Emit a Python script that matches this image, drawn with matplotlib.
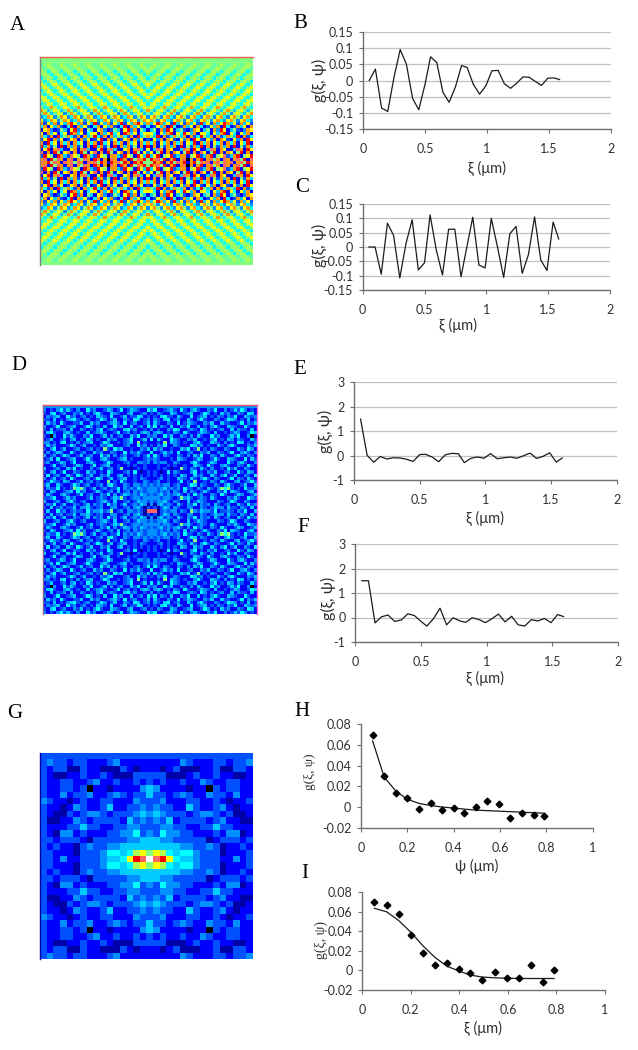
import numpy as np
import matplotlib
matplotlib.use("Agg")
import matplotlib.pyplot as plt
from matplotlib.colors import ListedColormap

W, H = 638, 1050

xi_long = [0.05,0.10,0.15,0.20,0.25,0.30,0.35,0.40,0.45,0.50,0.545,0.595,0.645,0.695,0.745,0.795,
           0.84,0.89,0.94,0.99,1.04,1.09,1.14,1.19,1.24,1.29,1.34,1.39,1.44,1.49,1.54,1.585]
b_vals = [0,.035,-.085,-.095,.01,.095,.05,-.055,-.09,-.012,.073,.055,-.037,-.067,-.02,.046,
          .04,-.012,-.042,-.017,.03,.031,-.01,-.024,-.008,.011,.01,-.003,-.015,.007,.008,.003]
c_vals = [0,0,-.095,.083,.04,-.108,.012,.095,-.08,-.055,.112,-.01,-.098,.062,.062,-.104,
          -.005,.104,-.063,-.073,.1,0,-.106,.046,.072,-.092,-.027,.105,-.045,-.082,.087,.028]
e_vals = [1.5,.02,-.26,-.03,-.13,-.08,-.09,-.14,-.23,.05,.06,-.05,-.24,.04,.1,.08,
          -.28,-.1,-.05,-.1,.09,-.12,-.08,-.05,-.1,0,.11,-.11,-.02,.12,-.26,-.09]
f_vals = [1.5,1.5,-.22,.03,.1,-.16,-.1,.15,.08,-.16,-.35,-.05,.38,-.3,-.01,-.14,
          -.2,-.01,-.08,-.21,-.05,.14,-.18,.05,-.3,-.35,-.09,-.14,-.04,-.21,.12,.04]
xi_short = [.05,.10,.15,.20,.25,.30,.35,.40,.445,.495,.545,.595,.645,.695,.745,.79]
h_pts = [.07,.03,.0135,.0085,-.0015,.0035,-.0025,-.0005,-.0055,-.0003,.0055,.003,-.0105,-.0055,-.0075,-.0085]
h_fit = [.064,.029,.0155,.0075,.0035,.0015,0,-.001,-.002,-.003,-.0035,-.004,-.0045,-.005,-.0055,-.006]
i_pts = [.07,.067,.058,.036,.0175,.0055,.007,.0015,-.0025,-.0105,-.002,-.008,-.008,.0055,-.0125,.0003]
i_fit = [.0635,.06,.051,.039,.025,.013,.004,-.001,-.005,-.007,-.0078,-.0082,-.0085,-.0085,-.0085,-.0085]

level_colors = ["#000000","#0000a8","#0000ff","#0050ff","#0090ff","#00ccff","#00ffff","#80ff80",
                "#ffff00","#ff9900","#ff0000","#ff6666","#ffffff","#60ffa0","#b0ff50"]

map_a = """
777777777777777777777777777777777
777777777777777777777777777777777
d7e7d7e7d7e7d7e7d7e7d7e7d7e7d7e7d
7d7e7d7e7d7e7d7e7d7e7d7e7d7e7d7e7
e767e767e767e767e767e767e767e767e
7e767e767e767e767e767e767e767e767
67e767e767e767e767e767e767e767e76
767e767e767e767e767e767e767e767e7
876787678767876787678767876787678
787678767876787678767876787678767
678767876787678767876787678767876
767876787678767876787678767876787
8e6d8e6d8e6d8e6d8e6d8e6d8e6d8e6d8
d8e6d8e6d8e6d8e6d8e6d8e6d8e6d8e6d
6d8e6d8e6d8e6d8e6d8e6d8e6d8e6d8e6
e6d9e6d8e6d9e6d8e6d9e6d8e6d9e6d8e
9e5d8e5d9e5d8e5d9e5d8e5d9e5d8e5d9
d9e5d8e4d9e5d8e4d9e5d8e4d9e5d8e5d
469847984698479846984798469847984
846984798469847984698479846984798
938593859a859385a3859385a3859a859
69285932 6a295832 69285932 6a2958326
28942375 28a49275 28942375 28a492752
82958268 2a958268 82958a68 2a9582688
96392a57 96392957 a6392957 96392a579
38a29482 38929482 38a29482 389294823
92a68296 92968296 92a68296 929682969
a59372a2 95937292 a59372a2 95937292a
28a29b52 28929b52 28a29b52 28929b528
b292a728 9292a728 b292a728 9292a7284
3a872a95 3b872a95 3a872995 3a872a85a
9b2a7b92 9b297b92 a9290b92 a92a7b9a7
b9a7b92b 9b7b92b9 b7a92a9b 7a92a9a77
""".replace(" ", "").split()

map_d = """
444444444444444444444444444444444
423246353242263422354236235432264
325623422435232463225432245223423
243452263423423254326223523365232
332523245632342236423522432652342
253426322335225342234532623422352
422362234522364232522634225234263
325233425224323246234322563422324
256322453232252345322362342324542
320422635322436223524234225362243
235223424523264232253422346223526
442325623242345223642232345272322
253422236423522324356222342263423
324623522342234232732645223224352
242354226323422534224322624353226
523423642235234226352423422342362
235262234522363224532234523222343
342235423622245322364222342244342
223623422354223623452232232322322
522342253623224235234237221232322
324523622432253423264222342621232
262342253264235224352245232323232
423523426322342364235234522324322
236432542235234232272326322322432
352253223642342234256322432443434
243362323767423523423362434354344
325422345263422353234252342434344
253224532236234224362423543435434
334622353422235234323547323443444
522342246323422234532522342354434
243623522432352434263423523435414
325234233524453234224422342453132
2522634234332634453472342443431bb
""".split()

map_g = """
33333333333333333
34332332223422222
32331132211132122
32112232232111333
32233223422322323
32233230221222245
32242334223432335
43221232233222433
32212432235223343
32113234432333454
31122432333325343
32223353322334433
32144232223344634
33233321333334455
32322134334455555
33222133346656e87
33242233345568abc
""".split()

def expand(rows):
    n = len(rows)
    q = np.array([[int(ch, 16) for ch in r[:n].ljust(n, r[-1])] for r in rows])
    top = np.hstack([q, q[:, -2:0:-1]])
    return np.vstack([top, top[-2:0:-1, :]])

def px_axes(fig, l, t, r, b):
    return fig.add_axes([l / W, 1 - b / H, (r - l) / W, (b - t) / H])

def ftext(fig, x, y, s, **kw):
    fig.text(x / W, 1 - y / H, s, ha="center", va="center", **kw)

plt.rcParams["font.family"] = ["Lato", "DejaVu Sans"]
fig = plt.figure(figsize=(W / 100, H / 100), dpi=100, facecolor="white")
cmap = ListedColormap(level_colors)

def heat(rows, rect, edges):
    ax = px_axes(fig, *rect)
    ax.imshow(expand(rows), cmap=cmap, vmin=-0.5, vmax=14.5, aspect="auto", interpolation="nearest")
    ax.set_xticks([]); ax.set_yticks([])
    for side in ax.spines:
        ax.spines[side].set_visible(side in edges)
        if side in edges:
            ax.spines[side].set_color(edges[side]); ax.spines[side].set_linewidth(1.0)

heat(map_a, (40, 57, 253, 265), {"top": "#e8604a", "left": "#808080"})
heat(map_d, (43, 405, 257, 614), {"top": "#f05070", "left": "#806090", "right": "#ff70d0"})
heat(map_g, (39.5, 753, 252, 959), {"left": "#0000a0"})

GRID = "#c0c0c0"; AX = "#707070"; TXT = "#303030"

def chart(rect, xlim, xt, ylim, yt, xfmt, yfmt, grid=True):
    ax = px_axes(fig, *rect)
    ax.set_xlim(*xlim); ax.set_ylim(*ylim)
    ax.set_xticks(xt); ax.set_xticklabels(xfmt)
    ax.set_yticks(yt); ax.set_yticklabels(yfmt)
    ax.spines["top"].set_visible(False); ax.spines["right"].set_visible(False)
    for s in ("left", "bottom"):
        ax.spines[s].set_color(AX); ax.spines[s].set_linewidth(1.0)
    ax.tick_params(length=3, width=0.8, color=AX, labelsize=9, labelcolor=TXT, pad=4)
    ax.tick_params(axis="x", pad=7)
    if grid:
        ax.grid(axis="y", color=GRID, lw=0.9); ax.set_axisbelow(True)
    ax.patch.set_alpha(0)
    return ax

x2 = [0, .5, 1, 1.5, 2]; x2l = ["0", "0.5", "1", "1.5", "2"]
y15 = [-.15, -.1, -.05, 0, .05, .1, .15]; y15l = ["-0.15", "-0.1", "-0.05", "0", "0.05", "0.1", "0.15"]
y3 = [-1, 0, 1, 2, 3]; y3l = ["-1", "0", "1", "2", "3"]
x1 = [0, .2, .4, .6, .8, 1]; x1l = ["0", "0.2", "0.4", "0.6", "0.8", "1"]
y8 = [-.02, 0, .02, .04, .06, .08]; y8l = ["-0.02", "0", "0.02", "0.04", "0.06", "0.08"]

LK = dict(color="#1a1a1a", lw=0.9)
chart((363, 31.7, 611, 129.3), (0, 2), x2, (-.15, .15), y15, x2l, y15l).plot(xi_long, b_vals, **LK)
chart((362.7, 204, 610, 290), (0, 2), x2, (-.15, .15), y15, x2l, y15l).plot(xi_long, c_vals, **LK)
chart((354, 382.3, 616.7, 480.3), (0, 2), x2, (-1, 3), y3, x2l, y3l).plot(xi_long, e_vals, **LK)
chart((355.3, 544, 618, 642), (0, 2), x2, (-1, 3), y3, x2l, y3l).plot(xi_long, f_vals, **LK)
ax = chart((361, 724.3, 592.7, 827.7), (0, 1), x1, (-.02, .08), y8, x1l, y8l, grid=False)
ax.plot(xi_short, h_fit, **LK)
ax.plot(xi_short, h_pts, ls="", marker="D", ms=3.4, color="black")
ax = chart((362.3, 892.3, 605, 989.7), (0, 1), x1, (-.02, .08), y8, x1l, y8l, grid=False)
ax.plot(xi_short, i_fit, **LK)
ax.plot(xi_short, i_pts, ls="", marker="D", ms=3.4, color="black")

SERIF = ["Liberation Serif", "DejaVu Serif"]
for s, x, y in [("A", 17, 25), ("B", 300, 24), ("C", 302, 188), ("D", 19, 366), ("E", 300, 369),
                ("F", 303, 528), ("G", 15, 714), ("H", 302, 712), ("I", 305, 874)]:
    ftext(fig, x, y, s, family=SERIF, fontsize=15, color="black")

xl = "ξ (μm)"; kw = dict(fontsize=10.5, color=TXT)
ftext(fig, 487, 168, xl, **kw); ftext(fig, 458, 325, xl, **kw)
ftext(fig, 485, 518, xl, **kw); ftext(fig, 485, 678, xl, **kw)
ftext(fig, 477, 866, "ψ (μm)", **kw); ftext(fig, 483, 1028, xl, **kw)
yk = dict(rotation=90, fontsize=11.5, color=TXT)
ftext(fig, 319, 80, "g(ξ, ψ)", **yk); ftext(fig, 319, 245, "g(ξ, ψ)", **yk)
ftext(fig, 325, 431, "g(ξ, ψ)", **yk); ftext(fig, 328, 598, "g(ξ, ψ)", **yk)
ftext(fig, 310, 772, "g(ξ, ψ)", family=SERIF, rotation=90, fontsize=9.5, color=TXT)
ftext(fig, 321, 940, "g(ξ, ψ)", family=SERIF, rotation=90, fontsize=10, color=TXT)

fig.savefig("out.png", dpi=100)
